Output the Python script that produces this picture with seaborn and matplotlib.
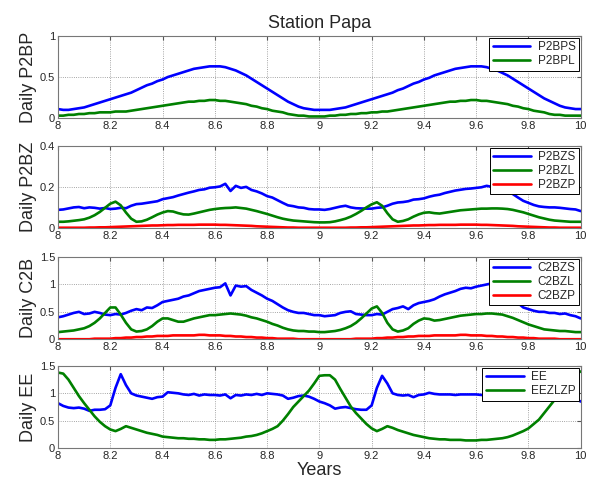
import numpy as np
import pandas as pd
import matplotlib
matplotlib.use("Agg")
import matplotlib.pyplot as plt
import seaborn as sns

# daily output, sampled every 0.02 yr from 8.00 to 10.00
years = np.round(np.linspace(8, 10, 101), 2)

p2bps = [0.11, 0.10, 0.10, 0.11, 0.12, 0.13, 0.15, 0.17, 0.19, 0.21,
         0.23, 0.25, 0.27, 0.29, 0.31, 0.34, 0.37, 0.40, 0.42, 0.45,
         0.47, 0.50, 0.52, 0.54, 0.56, 0.58, 0.60, 0.61, 0.62, 0.63,
         0.63, 0.63, 0.62, 0.60, 0.58, 0.55, 0.52, 0.48, 0.44, 0.40,
         0.36, 0.32, 0.28, 0.24, 0.20, 0.17, 0.14, 0.12, 0.11, 0.10,
         0.10, 0.10, 0.10, 0.11, 0.12, 0.13, 0.15, 0.17, 0.19, 0.21,
         0.23, 0.25, 0.27, 0.29, 0.31, 0.34, 0.36, 0.39, 0.42, 0.44,
         0.47, 0.49, 0.52, 0.54, 0.56, 0.58, 0.60, 0.61, 0.62, 0.63,
         0.63, 0.63, 0.62, 0.60, 0.58, 0.55, 0.52, 0.48, 0.44, 0.40,
         0.36, 0.32, 0.28, 0.24, 0.21, 0.18, 0.15, 0.13, 0.12, 0.11, 0.11]
p2bpl = [0.03, 0.03, 0.04, 0.04, 0.05, 0.05, 0.06, 0.06, 0.07, 0.07,
         0.07, 0.08, 0.08, 0.08, 0.09, 0.10, 0.11, 0.12, 0.13, 0.14,
         0.15, 0.16, 0.17, 0.18, 0.19, 0.20, 0.20, 0.21, 0.21, 0.22,
         0.22, 0.21, 0.21, 0.20, 0.19, 0.18, 0.17, 0.15, 0.14, 0.12,
         0.11, 0.09, 0.08, 0.07, 0.05, 0.04, 0.03, 0.03, 0.02, 0.02,
         0.02, 0.02, 0.03, 0.03, 0.04, 0.04, 0.05, 0.05, 0.06, 0.06,
         0.07, 0.07, 0.08, 0.08, 0.09, 0.10, 0.11, 0.12, 0.13, 0.14,
         0.15, 0.16, 0.17, 0.18, 0.19, 0.20, 0.20, 0.21, 0.21, 0.22,
         0.22, 0.21, 0.21, 0.20, 0.19, 0.18, 0.17, 0.15, 0.14, 0.12,
         0.11, 0.09, 0.08, 0.07, 0.05, 0.04, 0.04, 0.03, 0.03, 0.03, 0.03]

p2bzs = [0.088, 0.090, 0.095, 0.100, 0.102, 0.096, 0.100, 0.098, 0.094, 0.097,
         0.092, 0.094, 0.098, 0.096, 0.108, 0.116, 0.118, 0.122, 0.126, 0.130,
         0.140, 0.145, 0.150, 0.158, 0.165, 0.172, 0.178, 0.185, 0.188, 0.196,
         0.198, 0.202, 0.215, 0.180, 0.205, 0.195, 0.200, 0.185, 0.178, 0.168,
         0.155, 0.148, 0.135, 0.122, 0.110, 0.106, 0.100, 0.098, 0.092, 0.090,
         0.090, 0.088, 0.092, 0.098, 0.104, 0.108, 0.100, 0.096, 0.095, 0.094,
         0.094, 0.098, 0.100, 0.108, 0.118, 0.124, 0.126, 0.130, 0.138, 0.140,
         0.144, 0.152, 0.158, 0.162, 0.170, 0.176, 0.182, 0.186, 0.190, 0.192,
         0.195, 0.198, 0.205, 0.200, 0.195, 0.188, 0.178, 0.165, 0.148, 0.132,
         0.122, 0.112, 0.105, 0.102, 0.100, 0.100, 0.098, 0.095, 0.092, 0.090, 0.082]
p2bzl = [0.030, 0.030, 0.032, 0.035, 0.038, 0.042, 0.050, 0.062, 0.078, 0.098,
         0.118, 0.128, 0.110, 0.075, 0.045, 0.030, 0.032, 0.040, 0.052, 0.065,
         0.075, 0.082, 0.080, 0.072, 0.066, 0.065, 0.070, 0.076, 0.082, 0.088,
         0.092, 0.095, 0.097, 0.098, 0.100, 0.097, 0.094, 0.088, 0.082, 0.075,
         0.068, 0.060, 0.052, 0.045, 0.040, 0.036, 0.034, 0.032, 0.030, 0.028,
         0.027, 0.027, 0.028, 0.032, 0.038, 0.045, 0.055, 0.068, 0.083, 0.100,
         0.115, 0.125, 0.108, 0.072, 0.042, 0.030, 0.034, 0.042, 0.055, 0.066,
         0.074, 0.076, 0.072, 0.070, 0.074, 0.078, 0.082, 0.086, 0.088, 0.090,
         0.092, 0.094, 0.094, 0.095, 0.095, 0.094, 0.092, 0.088, 0.082, 0.076,
         0.068, 0.060, 0.052, 0.046, 0.040, 0.036, 0.034, 0.032, 0.030, 0.030, 0.030]
p2bzp = [0.001, 0.001, 0.001, 0.001, 0.001, 0.001, 0.002, 0.002, 0.003, 0.003,
         0.004, 0.005, 0.006, 0.007, 0.008, 0.009, 0.010, 0.011, 0.012, 0.012,
         0.013, 0.014, 0.014, 0.015, 0.015, 0.015, 0.015, 0.016, 0.016, 0.016,
         0.016, 0.015, 0.015, 0.014, 0.013, 0.012, 0.011, 0.010, 0.008, 0.007,
         0.006, 0.005, 0.004, 0.003, 0.002, 0.002, 0.001, 0.001, 0.001, 0.001,
         0.001, 0.001, 0.001, 0.001, 0.001, 0.001, 0.002, 0.002, 0.003, 0.003,
         0.004, 0.005, 0.006, 0.007, 0.008, 0.009, 0.010, 0.011, 0.012, 0.012,
         0.013, 0.014, 0.014, 0.015, 0.015, 0.015, 0.015, 0.016, 0.016, 0.016,
         0.016, 0.015, 0.015, 0.014, 0.013, 0.012, 0.011, 0.010, 0.008, 0.007,
         0.006, 0.005, 0.004, 0.003, 0.002, 0.002, 0.001, 0.001, 0.001, 0.001, 0.001]

c2bzs = [0.40, 0.42, 0.45, 0.48, 0.50, 0.46, 0.47, 0.50, 0.48, 0.45,
         0.44, 0.46, 0.45, 0.48, 0.52, 0.55, 0.53, 0.58, 0.57, 0.62,
         0.68, 0.70, 0.72, 0.74, 0.78, 0.80, 0.84, 0.88, 0.90, 0.92,
         0.94, 0.95, 1.02, 0.80, 0.98, 0.96, 0.97, 0.90, 0.85, 0.80,
         0.74, 0.70, 0.64, 0.58, 0.53, 0.50, 0.48, 0.48, 0.46, 0.44,
         0.44, 0.42, 0.43, 0.44, 0.48, 0.50, 0.51, 0.46, 0.45, 0.44,
         0.44, 0.46, 0.45, 0.50, 0.55, 0.57, 0.60, 0.55, 0.62, 0.66,
         0.68, 0.70, 0.73, 0.78, 0.82, 0.85, 0.88, 0.92, 0.94, 0.93,
         0.96, 0.98, 1.00, 1.02, 1.00, 0.95, 0.88, 0.78, 0.66, 0.58,
         0.55, 0.52, 0.50, 0.50, 0.48, 0.48, 0.46, 0.47, 0.44, 0.42, 0.38]
c2bzl = [0.13, 0.14, 0.15, 0.16, 0.18, 0.20, 0.24, 0.30, 0.38, 0.48,
         0.58, 0.58, 0.45, 0.30, 0.18, 0.14, 0.15, 0.18, 0.24, 0.32,
         0.38, 0.38, 0.35, 0.32, 0.32, 0.35, 0.38, 0.40, 0.42, 0.44,
         0.44, 0.45, 0.46, 0.47, 0.46, 0.45, 0.43, 0.40, 0.38, 0.35,
         0.32, 0.28, 0.25, 0.21, 0.18, 0.16, 0.15, 0.15, 0.14, 0.14,
         0.13, 0.13, 0.14, 0.15, 0.17, 0.20, 0.24, 0.30, 0.38, 0.47,
         0.56, 0.60, 0.48, 0.30, 0.18, 0.14, 0.16, 0.20, 0.28, 0.34,
         0.38, 0.37, 0.34, 0.35, 0.37, 0.39, 0.41, 0.43, 0.44, 0.45,
         0.46, 0.46, 0.47, 0.47, 0.46, 0.45, 0.42, 0.39, 0.35, 0.31,
         0.27, 0.24, 0.21, 0.18, 0.17, 0.16, 0.15, 0.15, 0.14, 0.13, 0.13]
c2bzp = [0.00, 0.00, 0.00, 0.00, 0.00, 0.00, 0.00, 0.01, 0.01, 0.01,
         0.01, 0.02, 0.02, 0.03, 0.03, 0.04, 0.04, 0.05, 0.05, 0.06,
         0.06, 0.06, 0.07, 0.07, 0.07, 0.07, 0.07, 0.08, 0.08, 0.07,
         0.07, 0.07, 0.06, 0.06, 0.05, 0.05, 0.04, 0.04, 0.03, 0.03,
         0.02, 0.02, 0.01, 0.01, 0.01, 0.01, 0.00, 0.00, 0.00, 0.00,
         0.00, 0.00, 0.00, 0.00, 0.00, 0.00, 0.00, 0.01, 0.01, 0.01,
         0.01, 0.02, 0.02, 0.03, 0.03, 0.04, 0.04, 0.05, 0.05, 0.06,
         0.06, 0.06, 0.07, 0.07, 0.07, 0.07, 0.07, 0.08, 0.08, 0.07,
         0.07, 0.07, 0.06, 0.06, 0.05, 0.05, 0.04, 0.04, 0.03, 0.03,
         0.02, 0.02, 0.01, 0.01, 0.01, 0.01, 0.00, 0.00, 0.00, 0.00, 0.00]

ee = [0.82, 0.77, 0.74, 0.73, 0.74, 0.72, 0.68, 0.70, 0.70, 0.71,
      0.78, 1.10, 1.35, 1.15, 1.00, 0.96, 0.94, 0.92, 0.90, 0.93,
      0.94, 1.02, 1.01, 1.00, 0.98, 0.97, 0.99, 0.96, 0.98, 0.97,
      0.97, 0.96, 0.98, 0.91, 0.97, 0.96, 0.98, 0.97, 0.99, 0.97,
      1.00, 0.99, 0.98, 0.96, 0.90, 0.92, 0.95, 0.96, 0.94, 0.90,
      0.85, 0.82, 0.78, 0.72, 0.74, 0.75, 0.73, 0.71, 0.70, 0.70,
      0.78, 1.10, 1.32, 1.18, 1.00, 0.97, 0.96, 0.97, 0.93, 0.97,
      0.98, 1.01, 0.99, 0.98, 0.98, 0.98, 0.97, 0.98, 0.98, 0.98,
      0.98, 0.97, 0.98, 0.97, 0.99, 0.98, 0.97, 0.98, 0.99, 0.97,
      0.98, 0.98, 0.97, 0.96, 0.98, 0.97, 0.96, 0.97, 0.95, 0.90, 0.85]
eezlzp = [1.38, 1.36, 1.25, 1.10, 0.95, 0.82, 0.70, 0.58, 0.48, 0.40,
          0.34, 0.31, 0.35, 0.40, 0.37, 0.34, 0.31, 0.28, 0.26, 0.24,
          0.21, 0.20, 0.19, 0.18, 0.18, 0.17, 0.17, 0.16, 0.16, 0.15,
          0.15, 0.16, 0.16, 0.17, 0.18, 0.19, 0.21, 0.22, 0.24, 0.27,
          0.31, 0.35, 0.40, 0.50, 0.62, 0.75, 0.85, 0.95, 1.05, 1.18,
          1.32, 1.33, 1.33, 1.25, 1.08, 0.92, 0.76, 0.64, 0.54, 0.44,
          0.36, 0.31, 0.35, 0.40, 0.37, 0.33, 0.30, 0.27, 0.24, 0.22,
          0.20, 0.18, 0.17, 0.16, 0.16, 0.15, 0.15, 0.15, 0.14, 0.14,
          0.14, 0.15, 0.15, 0.16, 0.17, 0.18, 0.20, 0.23, 0.27, 0.31,
          0.36, 0.44, 0.52, 0.64, 0.76, 0.88, 1.00, 1.12, 1.25, 1.35, 1.40]

BLUE = "#0000ff"
GREEN = "#008000"
RED = "#ff0000"

sns.set_style("white")
plt.rcParams["font.family"] = ["Liberation Sans", "DejaVu Sans"]

fig = plt.figure(figsize=(5.92, 4.86), dpi=100)

panels = [
    ("Daily P2BP", 1.0, [0, 0.5, 1], ["0", "0.5", "1"],
     [(p2bps, "P2BPS", BLUE), (p2bpl, "P2BPL", GREEN)]),
    ("Daily P2BZ", 0.4, [0, 0.2, 0.4], ["0", "0.2", "0.4"],
     [(p2bzs, "P2BZS", BLUE), (p2bzl, "P2BZL", GREEN), (p2bzp, "P2BZP", RED)]),
    ("Daily C2B", 1.5, [0, 0.5, 1, 1.5], ["0", "0.5", "1", "1.5"],
     [(c2bzs, "C2BZS", BLUE), (c2bzl, "C2BZL", GREEN), (c2bzp, "C2BZP", RED)]),
    ("Daily EE", 1.5, [0, 0.5, 1, 1.5], ["0", "0.5", "1", "1.5"],
     [(ee, "EE", BLUE), (eezlzp, "EEZLZP", GREEN)]),
]
bottoms = [0.757, 0.531, 0.302, 0.078]
xticks = [8, 8.2, 8.4, 8.6, 8.8, 9, 9.2, 9.4, 9.6, 9.8, 10]
xlabels = ["8", "8.2", "8.4", "8.6", "8.8", "9", "9.2", "9.4", "9.6", "9.8", "10"]

for (ylab, ymax, yt, ytl, series), b in zip(panels, bottoms):
    ax = fig.add_axes([0.098, b, 0.883, 0.169])
    for vals, name, col in series:
        sns.lineplot(x=years, y=vals, ax=ax, color=col, linewidth=1.9, label=name)
    ax.set_xlim(8, 10)
    ax.set_ylim(0, ymax)
    ax.set_xticks(xticks)
    ax.set_xticklabels(xlabels)
    ax.set_yticks(yt)
    ax.set_yticklabels(ytl)
    ax.tick_params(labelsize=8, direction="in", length=3, top=True, right=True,
                   color="#555555", pad=2)
    ax.grid(True, linestyle=":", linewidth=0.6, color="#888888")
    for s in ax.spines.values():
        s.set_color("#777777")
        s.set_linewidth(0.8)
    ax.set_ylabel(ylab, fontsize=13, labelpad=2)
    ax.set_xlabel("")
    leg = ax.legend(loc="upper right", fontsize=8.5, fancybox=False, framealpha=1,
                    edgecolor="black", borderaxespad=0.15, handlelength=3.2,
                    borderpad=0.3, labelspacing=0.15, handletextpad=0.6)
    leg.get_frame().set_linewidth(0.7)
    if b == bottoms[-1]:
        ax.set_xlabel("Years", fontsize=13, labelpad=1)
    if b == bottoms[0]:
        ax.set_title("Station Papa", fontsize=13, pad=6)

fig.savefig("out.png", dpi=100)
